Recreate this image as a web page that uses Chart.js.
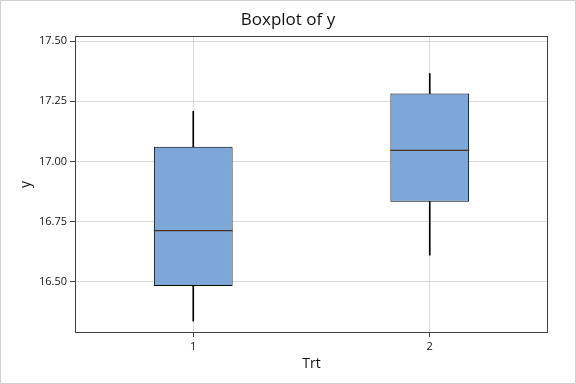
<!DOCTYPE html>
<html>
<head>
<meta charset="utf-8">
<script src="https://cdn.jsdelivr.net/npm/chart.js@4/dist/chart.umd.min.js"></script>
<style>
  html, body { margin: 0; padding: 0; background: #fff; }
  #wrap { width: 576px; height: 384px; position: relative; }
  canvas { display: block; }
</style>
</head>
<body>
<div id="wrap"><canvas id="c" width="576" height="384"></canvas></div>
<script>
// ---- data ----
const categories = ["1", "2"];
const whiskerLow = [16.337, 16.611];
const q1Values   = [16.483, 16.833];
const medians    = [16.713, 17.046];
const q3Values   = [17.061, 17.282];
const whiskerHigh= [17.208, 17.365];
const yTicks     = [16.50, 16.75, 17.00, 17.25, 17.50];
const yMin = 16.2875, yMax = 17.521;

const boxData   = categories.map((c, i) => [q1Values[i], q3Values[i]]);
const upperData = categories.map((c, i) => [q3Values[i], whiskerHigh[i]]);
const lowerData = categories.map((c, i) => [whiskerLow[i], q1Values[i]]);

const FONT = "'Open Sans', 'Noto Sans', 'DejaVu Sans', sans-serif";

const frame = {
  id: 'frame',
  afterDraw(chart) {
    const {ctx, chartArea: a} = chart;
    ctx.save();
    ctx.strokeStyle = '#404040';
    ctx.lineWidth = 1;
    ctx.strokeRect(Math.round(a.left) + 0.5, Math.round(a.top) + 0.5,
                   Math.round(a.right - a.left) - 1, Math.round(a.bottom - a.top) - 1);
    ctx.strokeStyle = '#d0d0d0';
    ctx.strokeRect(0.5, 0.5, chart.width - 1, chart.height - 1);
    ctx.restore();
  }
};

new Chart(document.getElementById('c'), {
  type: 'bar',
  data: {
    labels: categories,
    datasets: [
      { data: upperData, backgroundColor: '#000', barThickness: 1, grouped: false, order: 3 },
      { data: lowerData, backgroundColor: '#000', barThickness: 1, grouped: false, order: 3 },
      { data: boxData, backgroundColor: '#7da7d9', borderColor: '#000', borderWidth: 1,
        borderSkipped: false, barPercentage: 0.333, categoryPercentage: 1, grouped: false, order: 2 },
      { type: 'line', data: medians, showLine: false, pointStyle: 'line',
        pointRadius: 39.5, pointHoverRadius: 39.5, borderColor: '#4a3020', borderWidth: 1.3, order: 1 }
    ]
  },
  options: {
    responsive: false,
    animation: false,
    events: [],
    layout: { padding: 0, autoPadding: false },
    plugins: {
      legend: { display: false },
      tooltip: { enabled: false },
      title: {
        display: true, text: 'Boxplot of y', color: '#111',
        font: { family: FONT, size: 17, weight: 'normal' },
        padding: { top: 10, bottom: 5.6 }
      }
    },
    scales: {
      x: {
        offset: true,
        grid: { offset: false, color: '#d9d9d9', tickColor: '#404040', tickLength: 4, drawTicks: true },
        border: { display: false },
        ticks: { color: '#111', font: { family: FONT, size: 11 }, padding: 3 },
        title: { display: true, text: 'Trt', color: '#111', font: { family: FONT, size: 14 },
                 padding: { top: 0, bottom: 12 } },
        afterFit(s) { s.height = 51; s.paddingLeft = 0; s.paddingRight = 0; }
      },
      y: {
        min: yMin, max: yMax,
        afterBuildTicks(s) { s.ticks = yTicks.map(v => ({ value: v })); },
        grid: { color: '#d9d9d9', tickColor: '#404040', tickLength: 5 },
        border: { display: false },
        ticks: { color: '#111', font: { family: FONT, size: 11 }, padding: 3,
                 callback: v => Number(v).toFixed(2) },
        title: { display: true, text: 'y', color: '#111', font: { family: FONT, size: 14 },
                 padding: { top: 18, bottom: 0 } },
        afterFit(s) { s.width = 75; s.paddingTop = 0; s.paddingBottom = 0; }
      },
      yR: {
        position: 'right', display: true,
        grid: { display: false, drawTicks: false },
        border: { display: false },
        ticks: { display: false },
        afterFit(s) { s.width = 28; s.paddingTop = 0; s.paddingBottom = 0; }
      }
    }
  },
  plugins: [frame]
});
</script>
</body>
</html>
